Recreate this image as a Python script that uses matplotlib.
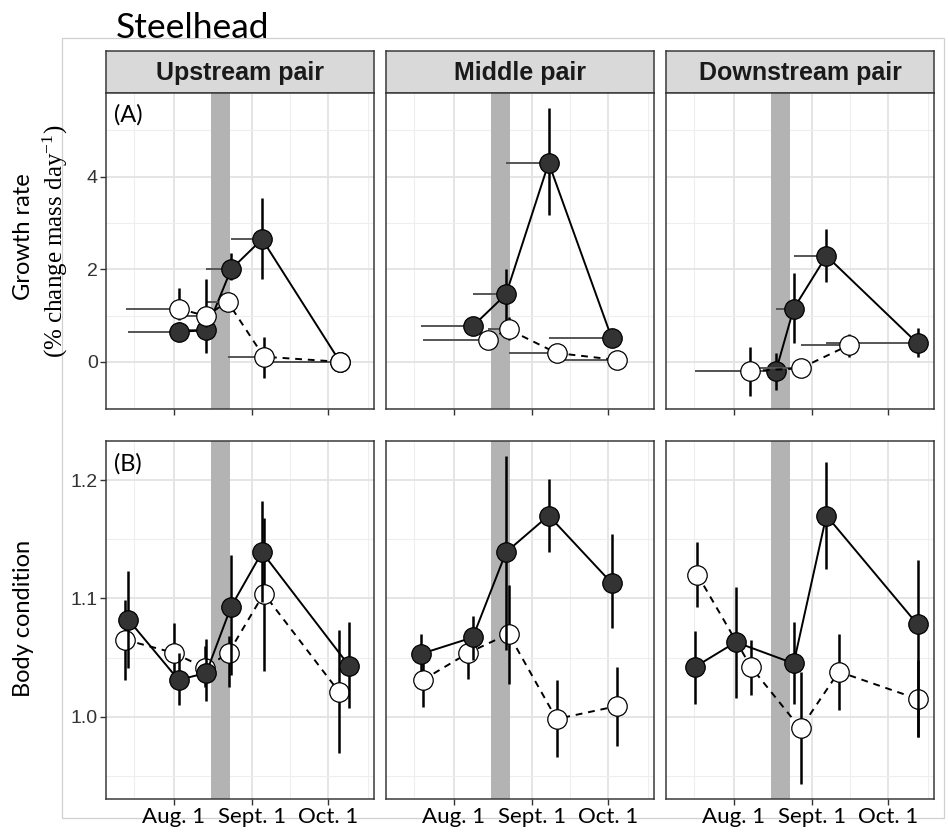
import matplotlib
matplotlib.use("Agg")
import matplotlib.pyplot as plt
from matplotlib.patches import Rectangle

# x values are day of year (Aug. 1 = 213)
pairs = ["Upstream pair", "Middle pair", "Downstream pair"]
date_ticks = [213, 244, 274]
date_labels = ["Aug. 1", "Sept. 1", "Oct. 1"]
date_minor = [197.5, 228.5, 259, 289.5]
flow_window = (227.9, 235.4)

# (A) growth rate, filled symbols (solid line)
gr_fill_x = [[215.0, 225.9, 235.7, 247.9, 278.6],
             [220.6, 233.7, 250.5, 275.3],
             [229.7, 236.7, 249.6, 285.5]]
gr_fill_start = [[195.2, 215.0, 225.9, 235.7, 247.9],
                 [200.0, 220.6, 233.7, 250.5],
                 [197.8, 229.7, 236.7, 249.6]]
gr_fill_y = [[0.65, 0.68, 2.00, 2.65, 0.00],
             [0.77, 1.46, 4.30, 0.52],
             [-0.20, 1.15, 2.29, 0.40]]
gr_fill_lo = [[0.45, 0.19, 1.77, 1.80, -0.08],
              [0.68, 0.83, 3.17, 0.40],
              [-0.61, 0.40, 1.73, 0.11]]
gr_fill_hi = [[0.85, 1.00, 2.36, 3.53, 0.08],
              [0.88, 2.00, 5.49, 0.61],
              [0.18, 1.92, 2.88, 0.72]]

# (A) growth rate, open symbols (dashed line)
gr_open_x = [[215.0, 225.9, 234.3, 248.6, 278.6],
             [226.6, 234.7, 253.6, 277.6],
             [219.6, 239.4, 258.5]]
gr_open_start = [[194.3, 215.0, 225.9, 234.3, 248.6],
                 [200.9, 226.6, 234.7, 253.6],
                 [198.9, 219.6, 239.4]]
gr_open_y = [[1.15, 0.99, 1.30, 0.11, 0.00],
             [0.48, 0.70, 0.19, 0.04],
             [-0.20, -0.14, 0.36]]
gr_open_lo = [[0.90, 0.75, 1.15, -0.36, -0.05],
              [0.38, 0.47, 0.10, -0.05],
              [-0.74, -0.25, 0.11]]
gr_open_hi = [[1.59, 1.80, 1.45, 0.54, 0.05],
              [0.58, 0.97, 0.28, 0.13],
              [0.32, -0.03, 0.61]]

# (B) body condition, filled symbols
bc_fill_x = [[195.2, 215.0, 225.9, 235.7, 247.9, 282.2],
             [200.1, 220.6, 233.7, 250.5, 275.3],
             [197.8, 213.9, 236.7, 249.6, 285.5]]
bc_fill_y = [[1.082, 1.031, 1.037, 1.093, 1.139, 1.043],
             [1.053, 1.067, 1.139, 1.170, 1.113],
             [1.042, 1.063, 1.045, 1.170, 1.078]]
bc_fill_lo = [[1.041, 1.010, 1.013, 1.035, 1.097, 1.007],
              [1.039, 1.048, 1.056, 1.139, 1.075],
              [1.011, 1.016, 1.011, 1.125, 0.983]]
bc_fill_hi = [[1.123, 1.054, 1.066, 1.137, 1.182, 1.080],
              [1.070, 1.085, 1.220, 1.201, 1.154],
              [1.072, 1.110, 1.080, 1.215, 1.132]]

# (B) body condition, open symbols
bc_open_x = [[193.9, 213.0, 225.5, 234.7, 248.6, 278.2],
             [200.9, 218.9, 234.7, 253.6, 277.6],
             [198.8, 219.9, 239.4, 254.5, 285.5]]
bc_open_y = [[1.065, 1.054, 1.041, 1.054, 1.104, 1.021],
             [1.031, 1.054, 1.070, 0.998, 1.009],
             [1.120, 1.042, 0.990, 1.038, 1.015]]
bc_open_lo = [[1.031, 1.037, 1.025, 1.025, 1.039, 0.969],
              [1.008, 1.032, 1.028, 0.966, 0.975],
              [1.093, 1.018, 0.943, 1.006, 0.983]]
bc_open_hi = [[1.099, 1.079, 1.060, 1.068, 1.168, 1.073],
              [1.045, 1.068, 1.111, 1.031, 1.042],
              [1.148, 1.065, 1.038, 1.070, 1.048]]

W, H = 948, 835
fig = plt.figure(figsize=(W / 100, H / 100), dpi=100)


def px_box(x0, y0, x1, y1):
    return [x0 / W, 1 - y1 / H, (x1 - x0) / W, (y1 - y0) / H]


def series(ax, x, y, lo, hi, start, face, ls, z):
    if start is not None:
        ax.hlines(y, start, x, color="#555555", lw=1.4, zorder=z)
    ax.vlines(x, lo, hi, color="black", lw=1.8, zorder=z + 0.1)
    ax.plot(x, y, color="black", ls=ls, lw=1.4, zorder=z + 1)
    ax.plot(x, y, ls="none", marker="o", ms=14, mfc=face, mec="black",
            mew=0.9, zorder=z + 2)


def style(ax, ylim, yt, yminor, show_y, show_x):
    ax.set_xlim(186.4, 292.0)
    ax.set_ylim(*ylim)
    ax.set_xticks(date_ticks)
    ax.set_xticks(date_minor, minor=True)
    ax.set_yticks(yt)
    ax.set_yticks(yminor, minor=True)
    ax.grid(which="major", color="#e3e3e3", lw=1.3, zorder=0)
    ax.grid(which="minor", color="#eeeeee", lw=0.8, zorder=0)
    ax.set_axisbelow(True)
    ax.axvspan(*flow_window, color="#b3b3b3", lw=0, zorder=1)
    for s in ax.spines.values():
        s.set_color("#3a3a3a")
        s.set_linewidth(1.1)
    ax.tick_params(which="minor", length=0)
    ax.tick_params(which="major", length=4, width=1.0, color="#333333")
    ax.tick_params(axis="y", left=show_y, labelleft=show_y,
                   labelsize=14, labelcolor="#333333", pad=2)
    ax.tick_params(axis="x", labelbottom=show_x, pad=2)
    if show_x:
        ax.set_xticklabels(date_labels, fontfamily="Lato", fontsize=16)
    if show_y:
        for t in ax.get_yticklabels():
            t.set_fontfamily("Liberation Sans")


cols = [106, 386, 666]
for i, name in enumerate(pairs):
    x0 = cols[i]
    # facet strip
    st = fig.add_axes(px_box(x0, 51, x0 + 268, 93))
    st.set_facecolor("#d9d9d9")
    st.set_xticks([])
    st.set_yticks([])
    for s in st.spines.values():
        s.set_color("#3a3a3a")
        s.set_linewidth(1.1)
    st.text(0.5, 0.47, name, ha="center", va="center", fontsize=18,
            fontweight="bold", family="Liberation Sans", color="#1a1a1a")

    ax = fig.add_axes(px_box(x0, 93, x0 + 268, 409))
    style(ax, (-1.02, 5.81), [0, 2, 4], [-1, 1, 3, 5], i == 0, False)
    series(ax, gr_fill_x[i], gr_fill_y[i], gr_fill_lo[i], gr_fill_hi[i],
           gr_fill_start[i], "#333333", "-", 2)
    series(ax, gr_open_x[i], gr_open_y[i], gr_open_lo[i], gr_open_hi[i],
           gr_open_start[i], "white", (0, (3.5, 3)), 5)
    if i == 0:
        ax.text(0.03, 0.965, "(A)", transform=ax.transAxes, ha="left",
                va="top", fontsize=17, family="Lato")

    bx = fig.add_axes(px_box(x0, 441, x0 + 268, 799))
    style(bx, (0.9304, 1.233), [1.0, 1.1, 1.2], [0.95, 1.05, 1.15],
          i == 0, True)
    series(bx, bc_open_x[i], bc_open_y[i], bc_open_lo[i], bc_open_hi[i],
           None, "white", (0, (3.5, 3)), 2)
    series(bx, bc_fill_x[i], bc_fill_y[i], bc_fill_lo[i], bc_fill_hi[i],
           None, "#333333", "-", 5)
    if i == 0:
        bx.yaxis.set_major_formatter(lambda v, p: f"{v:.1f}")
        for t in bx.get_yticklabels():
            t.set_fontfamily("Liberation Sans")
        bx.text(0.03, 0.966, "(B)", transform=bx.transAxes, ha="left",
                va="top", fontsize=17, family="Lato")

# outer frame and labels
fig.add_artist(Rectangle((62 / W, 1 - 818 / H), 882 / W, 780 / H,
                         transform=fig.transFigure, fill=False,
                         ec="#d0d0d0", lw=0.9, zorder=-1))
fig.text(116 / W, 1 - 38 / H, "Steelhead", ha="left", va="baseline",
         fontsize=25.5, family="Lato")
fig.text(24 / W, 1 - 237 / H, "Growth rate", rotation=90, ha="center",
         va="center", fontsize=17, family="Lato")
fig.text(55 / W, 1 - 241 / H, r"(% change mass day$\mathregular{^{-1}}$)",
         rotation=90, ha="center", va="center", fontsize=18,
         family="Liberation Serif")
fig.text(24 / W, 1 - 618 / H, "Body condition", rotation=90, ha="center",
         va="center", fontsize=17, family="Lato")

fig.savefig("out.png", dpi=100)
